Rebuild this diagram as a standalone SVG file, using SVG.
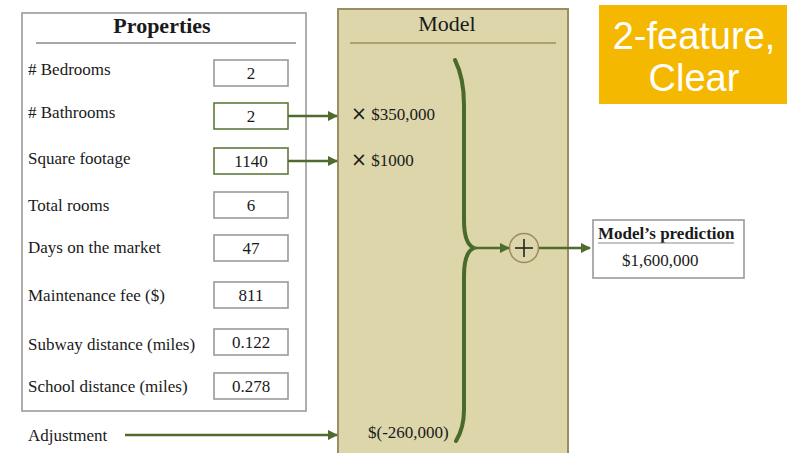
<svg xmlns="http://www.w3.org/2000/svg" width="800" height="453" viewBox="0 0 800 453">
  <style>
    .lbl { font-family: "Liberation Serif", "DejaVu Serif", serif; font-size: 17px; fill: #1a1a1a; }
    .val { font-family: "Liberation Serif", "DejaVu Serif", serif; font-size: 17px; fill: #1a1a1a; text-anchor: middle; }
    .title { font-family: "Liberation Serif", "DejaVu Serif", serif; font-size: 22px; fill: #1a1a1a; text-anchor: middle; }
    .times { font-family: "DejaVu Sans", sans-serif; font-size: 19px; }
    .box { fill: #ffffff; stroke: #9a9a9a; stroke-width: 1.6; }
    .sel { fill: #ffffff; stroke: #5e7a3c; stroke-width: 1.6; }
    .conn { fill: none; stroke: #4f6b2f; stroke-width: 2.5; }
    .brace { fill: none; stroke: #4a6a2c; stroke-width: 4; stroke-linecap: round; }
  </style>
  <defs>
    <marker id="arrow" viewBox="0 0 10 10" refX="9" refY="5" markerWidth="4.2" markerHeight="4.2" orient="auto">
      <path d="M0,0 L10,5 L0,10 z" fill="#4f6b2f"/>
    </marker>
  </defs>
  <rect width="800" height="453" fill="#ffffff"/>

  <!-- Properties panel -->
  <g id="properties">
    <rect x="22" y="13" width="284" height="398" class="box" stroke-width="2"/>
    <text x="162" y="33" class="title" font-weight="bold">Properties</text>
    <line x1="36" y1="43" x2="296" y2="43" stroke="#8a8a8a" stroke-width="1.5"/>
  </g>
  <g id="bedrooms">
    <text x="28" y="75" class="lbl"># Bedrooms</text>
    <rect x="214" y="60" width="74" height="26" class="box"/>
    <text x="251" y="79" class="val">2</text>
  </g>
  <g id="bathrooms">
    <text x="28" y="118" class="lbl"># Bathrooms</text>
    <rect x="214" y="103" width="74" height="26" class="sel"/>
    <text x="251" y="122" class="val">2</text>
  </g>
  <g id="sqft">
    <text x="28" y="164" class="lbl">Square footage</text>
    <rect x="214" y="148" width="74" height="26" class="sel"/>
    <text x="251" y="167" class="val">1140</text>
  </g>
  <g id="rooms">
    <text x="28" y="211" class="lbl">Total rooms</text>
    <rect x="214" y="192" width="74" height="26" class="box"/>
    <text x="251" y="211" class="val">6</text>
  </g>
  <g id="days">
    <text x="28" y="253" class="lbl">Days on the market</text>
    <rect x="214" y="235" width="74" height="26" class="box"/>
    <text x="251" y="254" class="val">47</text>
  </g>
  <g id="fee">
    <text x="28" y="301" class="lbl">Maintenance fee ($)</text>
    <rect x="214" y="282" width="74" height="26" class="box"/>
    <text x="251" y="301" class="val">811</text>
  </g>
  <g id="subway">
    <text x="28" y="350" class="lbl">Subway distance (miles)</text>
    <rect x="214" y="329" width="74" height="26" class="box"/>
    <text x="251" y="348" class="val">0.122</text>
  </g>
  <g id="school">
    <text x="28" y="392" class="lbl">School distance (miles)</text>
    <rect x="214" y="373" width="74" height="26" class="box"/>
    <text x="251" y="392" class="val">0.278</text>
  </g>
  <g id="adjustment">
    <text x="28" y="441" class="lbl">Adjustment</text>
  </g>

  <!-- Model panel -->
  <g id="model">
    <rect x="338" y="9" width="230" height="446" fill="#dcd6aa" stroke="#9c8c62" stroke-width="2"/>
    <text x="447" y="31" class="title" font-size="20">Model</text>
    <line x1="350" y1="43" x2="556" y2="43" stroke="#9c8c62" stroke-width="1.5"/>
    <text x="351" y="120" class="lbl" font-size="16.5"><tspan class="times">×</tspan> $350,000</text>
    <text x="351" y="166" class="lbl" font-size="16.5"><tspan class="times">×</tspan> $1000</text>
    <text x="368" y="438" class="lbl" font-size="16.5">$(-260,000)</text>
    <path class="brace" d="M455,60 Q464,78 464,105 L464,220 Q464,244 474,248 Q464,252 464,276 L464,410 Q464,428 456,441"/>
  </g>
  <g id="sum">
    <circle cx="524" cy="248" r="14.5" fill="#dcd6aa" stroke="#9c8c62" stroke-width="1.5"/>
    <path d="M515,248 H533 M524,239 V257" stroke="#1a1a1a" stroke-width="1.5"/>
  </g>

  <!-- Prediction -->
  <g id="prediction">
    <rect x="593" y="220" width="151" height="58" class="box" stroke-width="2"/>
    <text x="598" y="239" class="lbl" font-weight="bold">Model’s prediction</text>
    <line x1="598" y1="243" x2="734" y2="243" stroke="#8a8a8a" stroke-width="1"/>
    <text x="622" y="266" class="lbl">$1,600,000</text>
  </g>

  <!-- Tag -->
  <g id="tag">
    <rect x="599" y="5" width="188" height="99" fill="#f5b800"/>
    <text x="694" y="49" font-family="'Liberation Sans', Arial, sans-serif" font-size="38" fill="#ffffff" text-anchor="middle">2-feature,</text>
    <text x="694" y="91" font-family="'Liberation Sans', Arial, sans-serif" font-size="38" fill="#ffffff" text-anchor="middle">Clear</text>
  </g>

  <!-- Connectors -->
  <g id="connectors">
    <line x1="288" y1="116" x2="337" y2="116" class="conn" marker-end="url(#arrow)"/>
    <line x1="288" y1="161" x2="337" y2="161" class="conn" marker-end="url(#arrow)"/>
    <line x1="125" y1="435" x2="337" y2="435" class="conn" marker-end="url(#arrow)"/>
    <line x1="474" y1="248" x2="509" y2="248" class="conn" marker-end="url(#arrow)"/>
    <line x1="539" y1="248" x2="590" y2="248" class="conn" marker-end="url(#arrow)"/>
  </g>
</svg>
